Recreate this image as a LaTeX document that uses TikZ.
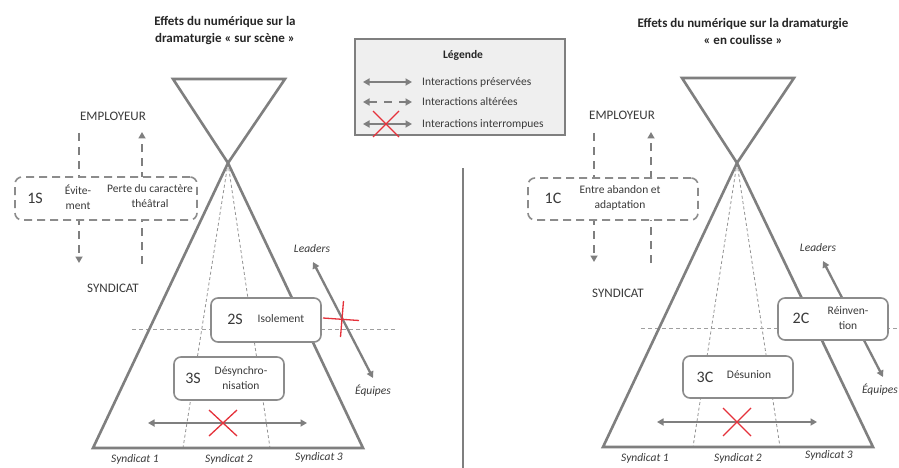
\documentclass[tikz,border=0pt]{standalone}
\usepackage{fontspec}
\setmainfont{Carlito}
\usetikzlibrary{arrows.meta}
\definecolor{gl}{HTML}{7F7F7F}
\definecolor{bl}{HTML}{8C8C8C}
\definecolor{tx}{HTML}{3A3A3A}
\definecolor{rx}{HTML}{E5323B}
\definecolor{lg}{HTML}{EFEFEF}
\tikzset{
 tri/.style={draw=gl, line width=2.6pt, line join=miter},
 fan/.style={draw=gl!85, line width=0.8pt, dash pattern=on 3pt off 2.5pt},
 hdash/.style={draw=gl!75, line width=0.9pt, dash pattern=on 4pt off 3pt},
 boxs/.style={draw=bl, line width=1.6pt, rounded corners=7pt, fill=white, inner sep=0pt},
 boxd/.style={boxs, dash pattern=on 8pt off 5pt},
 tipa/.tip={Triangle[length=6.5pt,width=7pt]},
 arr/.style={draw=gl, line width=2.3pt, tipa-tipa},
 darr/.style={draw=gl, line width=2.6pt, dash pattern=on 8pt off 6pt, -tipa},
 crossl/.style={draw=rx, line width=1.3pt},
 idt/.style={text=tx, font=\fontsize{16}{18}\selectfont, inner sep=0pt},
 bt/.style={text=tx, font=\fontsize{11.5}{15}\selectfont, align=center, inner sep=0pt},
 lab/.style={text=tx, font=\fontsize{13}{15}\selectfont, inner sep=0pt},
 itl/.style={text=tx, font=\fontsize{11.5}{14}\itshape, inner sep=0pt},
 ttl/.style={text=black!85, font=\fontsize{13}{17}\bfseries, align=center, inner sep=0pt},
 sep/.style={draw=gl, line width=2pt},
}
\begin{document}
\begin{tikzpicture}[x=1pt,y=-1pt]
\useasboundingbox (0,0) rectangle (899,468);
\fill[white] (0,0) rectangle (899,468);

% ---------------- separator
\coordinate (sepT) at (463,168);
\coordinate (sepB) at (463,470);
\draw[sep] (sepT) -- (sepB);

% ---------------- LEFT DIAGRAM
\node[ttl] (titleL) at (225,31) {Effets du numérique sur la\\dramaturgie « sur scène »};

% fan + horizontal dashed
\coordinate (apexL) at (228,163);
\coordinate (fanL1) at (183,448);
\coordinate (fanL2) at (270,448);
\draw[fan] (apexL) -- (fanL1);
\draw[fan] (apexL) -- (fanL2);
\coordinate (hL1) at (132,329);
\coordinate (hL2) at (396,329);
\draw[hdash] (hL1) -- (hL2);

% hourglass
\coordinate (topLa) at (173,79);
\coordinate (topLb) at (285,79);
\coordinate (baseLa) at (93,448);
\coordinate (baseLb) at (363,448);
\draw[tri] (topLa) -- (topLb) -- (apexL) -- cycle;
\draw[tri] (apexL) -- (baseLa) -- (baseLb) -- cycle;

% employeur / syndicat
\node[lab] (empL) at (113,116) {EMPLOYEUR};
\node[lab] (synL) at (113,288) {SYNDICAT};
\coordinate (dL1a) at (79,133);
\coordinate (dL1b) at (79,263);
\coordinate (dL2a) at (142,264);
\coordinate (dL2b) at (142,132);
\draw[darr] (dL1a) -- (dL1b);
\draw[darr] (dL2a) -- (dL2b);

% leaders arrow
\node[itl] (leadL) at (312,249) {Leaders};
\node[itl] (equL) at (373,391) {Équipes};
\coordinate (laL1) at (313,262);
\coordinate (laL2) at (373,378);
\draw[arr] (laL1) -- (laL2);

% bottom arrow
\coordinate (baL1) at (148,423);
\coordinate (baL2) at (307,423);
\draw[arr] (baL1) -- (baL2);

% boxes
\node[boxd, minimum width=182pt, minimum height=43pt] (b1S) at (106,198.5) {};
\node[idt] (id1S) at (35,198) {1S};
\node[bt] (t1Sa) at (78,197) {Évite-\\ment};
\node[bt] (t1Sb) at (150,196) {Perte du caractère\\théâtral};

\node[boxs, minimum width=110pt, minimum height=44pt] (b2S) at (266,320) {};
\node[idt] (id2S) at (235,319) {2S};
\node[bt] (t2S) at (281,319) {Isolement};

\node[boxs, minimum width=110pt, minimum height=43pt] (b3S) at (229,378.5) {};
\node[idt] (id3S) at (193,378) {3S};
\node[bt] (t3S) at (241,378) {Désynchro-\\nisation};

% syndicat labels
\node[itl] (s1L) at (135,459) {Syndicat 1};
\node[itl] (s2L) at (229,459) {Syndicat 2};
\node[itl] (s3L) at (319,457) {Syndicat 3};

% red crosses
\coordinate (xA1) at (209,410); \coordinate (xA2) at (237,436);
\coordinate (xA3) at (237,410); \coordinate (xA4) at (209,436);
\draw[crossl] (xA1) -- (xA2);
\draw[crossl] (xA3) -- (xA4);
\coordinate (xB1) at (323,318); \coordinate (xB2) at (359,320.5);
\coordinate (xB3) at (343.5,301); \coordinate (xB4) at (340.5,337);
\draw[crossl] (xB1) -- (xB2);
\draw[crossl] (xB3) -- (xB4);

% ---------------- LEGEND
\node[draw=gl, line width=2.4pt, fill=lg, minimum width=210pt, minimum height=96pt, inner sep=0pt] (leg) at (460,87) {};
\node[text=black!85, font=\fontsize{11.5}{14}\bfseries, inner sep=0pt] (legT) at (463,55) {Légende};
\coordinate (lg1a) at (363,82); \coordinate (lg1b) at (412,82);
\coordinate (lg2a) at (363,102); \coordinate (lg2b) at (412,102);
\coordinate (lg3a) at (363,124); \coordinate (lg3b) at (412,124);
\draw[arr] (lg1a) -- (lg1b);
\draw[draw=gl, line width=2.6pt, dash pattern=on 8pt off 7pt, tipa-tipa] (lg2a) -- (lg2b);
\draw[arr] (lg3a) -- (lg3b);
\coordinate (lx1) at (373,111); \coordinate (lx2) at (399,137);
\coordinate (lx3) at (399,111); \coordinate (lx4) at (373,137);
\draw[crossl] (lx1) -- (lx2);
\draw[crossl] (lx3) -- (lx4);
\node[bt, anchor=west] (lt1) at (422,82) {Interactions préservées};
\node[bt, anchor=west] (lt2) at (422,102) {Interactions altérées};
\node[bt, anchor=west] (lt3) at (422,124) {Interactions interrompues};

% ---------------- RIGHT DIAGRAM
\node[ttl] (titleR) at (743,31) {Effets du numérique sur la dramaturgie\\« en coulisse »};

\coordinate (apexR) at (737,163);
\coordinate (fanR1) at (693,447);
\coordinate (fanR2) at (780,447);
\draw[fan] (apexR) -- (fanR1);
\draw[fan] (apexR) -- (fanR2);
\coordinate (hR1) at (641,328);
\coordinate (hR2) at (905,328);
\draw[hdash] (hR1) -- (hR2);

\coordinate (topRa) at (682,78);
\coordinate (topRb) at (794,78);
\coordinate (baseRa) at (603,447);
\coordinate (baseRb) at (873,447);
\draw[tri] (topRa) -- (topRb) -- (apexR) -- cycle;
\draw[tri] (apexR) -- (baseRa) -- (baseRb) -- cycle;

\node[lab] (empR) at (622,115) {EMPLOYEUR};
\node[lab] (synR) at (618,293) {SYNDICAT};
\coordinate (dR1a) at (594,133);
\coordinate (dR1b) at (594,262);
\coordinate (dR2a) at (651,263);
\coordinate (dR2b) at (651,132);
\draw[darr] (dR1a) -- (dR1b);
\draw[darr] (dR2a) -- (dR2b);

\node[itl] (leadR) at (818,248) {Leaders};
\node[itl, anchor=east] (equR) at (898,390) {Équipes};
\coordinate (laR1) at (823,261);
\coordinate (laR2) at (883,377);
\draw[arr] (laR1) -- (laR2);

\coordinate (baR1) at (657,422);
\coordinate (baR2) at (817,422);
\draw[arr] (baR1) -- (baR2);

\node[boxd, minimum width=170pt, minimum height=42pt] (b1C) at (613,199) {};
\node[idt] (id1C) at (553,198) {1C};
\node[bt] (t1C) at (620,198) {Entre abandon et\\adaptation};

\node[boxs, minimum width=110pt, minimum height=42pt] (b2C) at (833,319) {};
\node[idt] (id2C) at (801,318) {2C};
\node[bt] (t2C) at (848,318) {Réinven-\\tion};

\node[boxs, minimum width=110pt, minimum height=42pt] (b3C) at (738,377) {};
\node[idt] (id3C) at (705,377) {3C};
\node[bt] (t3C) at (749,375) {Désunion};

\node[itl] (s1R) at (645,458) {Syndicat 1};
\node[itl] (s2R) at (738,458) {Syndicat 2};
\node[itl] (s3R) at (829,455) {Syndicat 3};

\coordinate (xC1) at (723,408); \coordinate (xC2) at (751,436);
\coordinate (xC3) at (751,408); \coordinate (xC4) at (723,436);
\draw[crossl] (xC1) -- (xC2);
\draw[crossl] (xC3) -- (xC4);
\end{tikzpicture}
\end{document}
